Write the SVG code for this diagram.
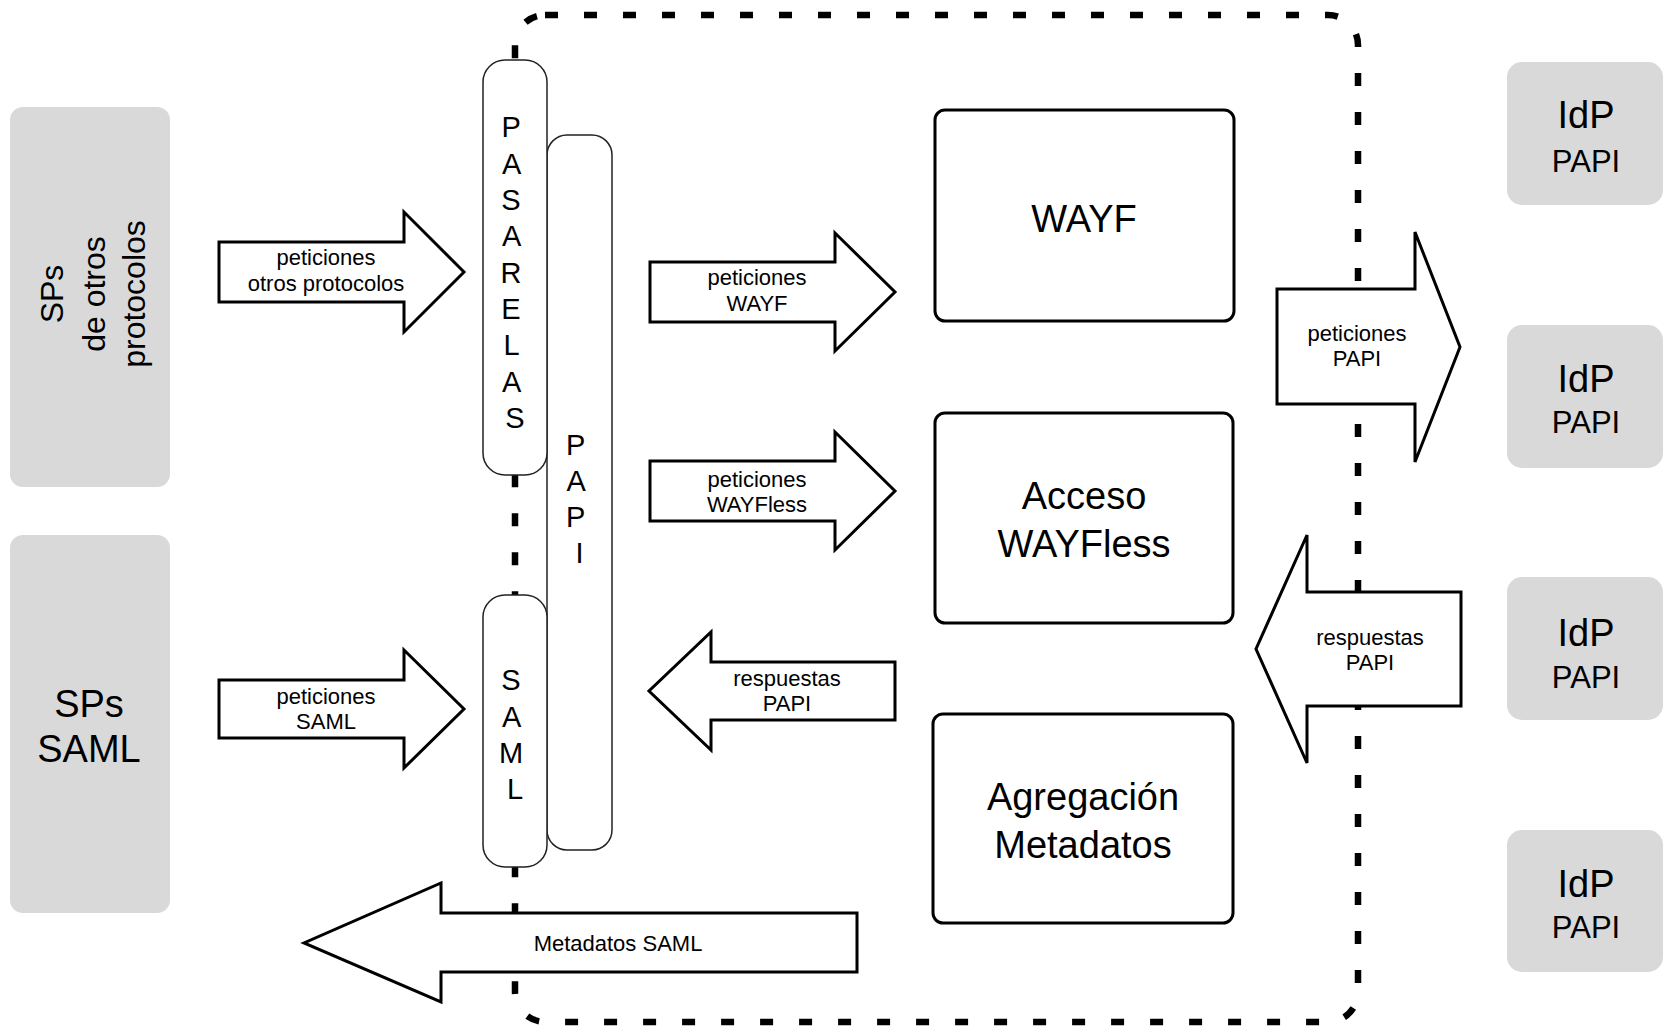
<svg xmlns="http://www.w3.org/2000/svg" width="1665" height="1027" viewBox="0 0 1665 1027">
  <style>
    .grey { fill: #d9d9d9; }
    .box { fill: #fff; stroke: #000; stroke-width: 3; }
    .col { fill: #fff; stroke: #222; stroke-width: 1.5; }
    .arrow { fill: #fff; stroke: #000; stroke-width: 3; stroke-linejoin: miter; }
    .frame { fill: none; stroke: #000; stroke-width: 6.5; stroke-dasharray: 13 26; }
    text { font-family: "Liberation Sans", Arial, Helvetica, sans-serif; fill: #000; text-anchor: middle; }
    .lbl { font-size: 22px; }
    .big { font-size: 38px; }
    .side { font-size: 32px; }
    .idp { font-size: 38px; }
    .papi { font-size: 31px; }
    .vert { font-size: 29px; }
  </style>

  <rect width="1665" height="1027" fill="#fff"/>

  <!-- dashed boundary of the federation service -->
  <rect id="boundary" class="frame" x="515" y="15" width="843" height="1007" rx="30" ry="30"/>

  <!-- service providers -->
  <g id="sp-otros">
    <rect class="grey" x="10" y="107" width="160" height="380" rx="13"/>
    <g transform="rotate(-90)">
      <text class="side" x="-294" y="63">SPs</text>
      <text class="side" x="-294" y="105">de otros</text>
      <text class="side" x="-294" y="145">protocolos</text>
    </g>
  </g>
  <g id="sp-saml">
    <rect class="grey" x="10" y="535" width="160" height="378" rx="13"/>
    <text class="big" x="89" y="717">SPs</text>
    <text class="big" x="89" y="762">SAML</text>
  </g>

  <!-- identity providers -->
  <g id="idp-1">
    <rect class="grey" x="1507" y="62" width="156" height="143" rx="15"/>
    <text class="idp" x="1586" y="128">IdP</text>
    <text class="papi" x="1586" y="172">PAPI</text>
  </g>
  <g id="idp-2">
    <rect class="grey" x="1507" y="325" width="156" height="143" rx="15"/>
    <text class="idp" x="1586" y="392">IdP</text>
    <text class="papi" x="1586" y="433">PAPI</text>
  </g>
  <g id="idp-3">
    <rect class="grey" x="1507" y="577" width="156" height="143" rx="15"/>
    <text class="idp" x="1586" y="646">IdP</text>
    <text class="papi" x="1586" y="688">PAPI</text>
  </g>
  <g id="idp-4">
    <rect class="grey" x="1507" y="830" width="156" height="142" rx="15"/>
    <text class="idp" x="1586" y="897">IdP</text>
    <text class="papi" x="1586" y="938">PAPI</text>
  </g>

  <!-- PAPI column -->
  <g id="papi">
    <rect class="col" x="547" y="135" width="65" height="715" rx="20"/>
    <text class="vert">
      <tspan x="579.5" y="455">P</tspan>
      <tspan x="579.5" y="491">A</tspan>
      <tspan x="579.5" y="527">P</tspan>
      <tspan x="579.5" y="563">I</tspan>
    </text>
  </g>

  <!-- gateways column -->
  <g id="pasarelas">
    <rect class="col" x="483" y="60" width="64" height="415" rx="22"/>
    <text class="vert">
      <tspan x="515" y="137">P</tspan>
      <tspan x="515" y="173.5">A</tspan>
      <tspan x="515" y="210">S</tspan>
      <tspan x="515" y="246">A</tspan>
      <tspan x="515" y="283">R</tspan>
      <tspan x="515" y="319">E</tspan>
      <tspan x="515" y="355">L</tspan>
      <tspan x="515" y="392">A</tspan>
      <tspan x="515" y="428">S</tspan>
    </text>
  </g>

  <!-- SAML column -->
  <g id="saml">
    <rect class="col" x="483" y="595" width="64" height="272" rx="22"/>
    <text class="vert">
      <tspan x="515" y="690">S</tspan>
      <tspan x="515" y="727">A</tspan>
      <tspan x="515" y="763">M</tspan>
      <tspan x="515" y="799">L</tspan>
    </text>
  </g>

  <!-- core services -->
  <g id="wayf">
    <rect class="box" x="935" y="110" width="299" height="211" rx="10"/>
    <text class="big" x="1084" y="232">WAYF</text>
  </g>
  <g id="acceso-wayfless">
    <rect class="box" x="935" y="413" width="298" height="210" rx="10"/>
    <text class="big" x="1084" y="509">Acceso</text>
    <text class="big" x="1084" y="557">WAYFless</text>
  </g>
  <g id="agregacion-metadatos">
    <rect class="box" x="933" y="714" width="300" height="209" rx="10"/>
    <text class="big" x="1083" y="810">Agregación</text>
    <text class="big" x="1083" y="858">Metadatos</text>
  </g>

  <!-- block arrows between components -->
  <g id="connectors">
    <g id="c-otros">
      <path class="arrow" d="M219,242 L404,242 L404,212 L464,272 L404,332 L404,302 L219,302 Z"/>
      <text class="lbl" x="326" y="265">peticiones</text>
      <text class="lbl" x="326" y="291">otros protocolos</text>
    </g>
    <g id="c-wayf">
      <path class="arrow" d="M650,262 L835,262 L835,233 L895,292 L835,351 L835,322 L650,322 Z"/>
      <text class="lbl" x="757" y="285">peticiones</text>
      <text class="lbl" x="757" y="311">WAYF</text>
    </g>
    <g id="c-wayfless">
      <path class="arrow" d="M650,461 L835,461 L835,432 L895,491 L835,550 L835,521 L650,521 Z"/>
      <text class="lbl" x="757" y="487">peticiones</text>
      <text class="lbl" x="757" y="512">WAYFless</text>
    </g>
    <g id="c-respuestas-papi">
      <path class="arrow" d="M895,662 L711,662 L711,632 L649,691 L711,750 L711,720 L895,720 Z"/>
      <text class="lbl" x="787" y="686">respuestas</text>
      <text class="lbl" x="787" y="711">PAPI</text>
    </g>
    <g id="c-saml">
      <path class="arrow" d="M219,680 L404,680 L404,650 L464,709 L404,768 L404,738 L219,738 Z"/>
      <text class="lbl" x="326" y="704">peticiones</text>
      <text class="lbl" x="326" y="729">SAML</text>
    </g>
    <g id="c-metadatos">
      <path class="arrow" d="M857,913 L441,913 L441,883 L304,943 L441,1002 L441,972 L857,972 Z"/>
      <text class="lbl" x="618" y="951">Metadatos SAML</text>
    </g>
    <g id="c-peticiones-idp">
      <path class="arrow" d="M1277,289 L1415,289 L1415,232 L1460,347 L1415,462 L1415,404 L1277,404 Z"/>
      <text class="lbl" x="1357" y="341">peticiones</text>
      <text class="lbl" x="1357" y="366">PAPI</text>
    </g>
    <g id="c-respuestas-idp">
      <path class="arrow" d="M1461,592 L1307,592 L1307,535 L1256,649 L1307,763 L1307,706 L1461,706 Z"/>
      <text class="lbl" x="1370" y="645">respuestas</text>
      <text class="lbl" x="1370" y="670">PAPI</text>
    </g>
  </g>
</svg>
